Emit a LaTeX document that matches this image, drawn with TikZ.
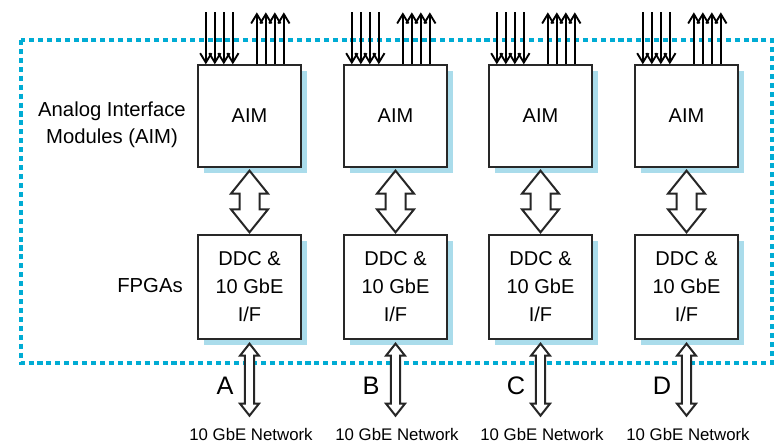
\documentclass[tikz,border=0pt]{standalone}
\usepackage{fontspec}
\setmainfont{Liberation Sans}
\usetikzlibrary{arrows.meta,calc,shadows}
\definecolor{dashblue}{RGB}{0,172,212}
\definecolor{shadowblue}{RGB}{170,220,235}
\definecolor{boxline}{RGB}{40,40,40}
% block double arrow: top tip, bottom tip, half head width, half shaft width, head length
\newcommand\blockarrow[5]{%
  \draw[barrow] let \p1=(#1), \p2=(#2) in
    (\x1,\y1) -- (\x1+#3,\y1-#5) -- (\x1+#4,\y1-#5) -- (\x1+#4,\y2+#5)
    -- (\x1+#3,\y2+#5) -- (\x1,\y2) -- (\x1-#3,\y2+#5) -- (\x1-#4,\y2+#5)
    -- (\x1-#4,\y1-#5) -- (\x1-#3,\y1-#5) -- cycle;}
\begin{document}
\begin{tikzpicture}[x=0.75pt,y=-0.75pt,
  box/.style={draw=boxline, line width=1pt, fill=white, minimum width=77.25pt,
    drop shadow={shadow xshift=4.5pt, shadow yshift=-4.5pt, fill=shadowblue, opacity=1},
    inner sep=0pt, align=center, font=\fontsize{15}{21}\selectfont},
  aimbox/.style={box, minimum height=76.5pt},
  fpgabox/.style={box, minimum height=78pt},
  sig/.style={line width=1.4pt, -{Straight Barb[length=7pt,width=8.5pt]}},
  barrow/.style={draw=black!85, line width=1.5pt, fill=white, line join=miter},
  lbl/.style={font=\fontsize{15.2}{20.25}\selectfont, align=center},
  letter/.style={font=\fontsize{19}{22}\selectfont},
  net/.style={font=\fontsize{12.6}{15}\selectfont}]
\useasboundingbox (0,0) rectangle (774,445);
\draw[dashblue, line width=2.3pt, dash pattern=on 3.8pt off 2.9pt] (21,40) rectangle (772,363);

\node[aimbox] (a1) at (249.5,116) {AIM};
\node[aimbox] (a2) at (395.5,116) {AIM};
\node[aimbox] (a3) at (540.5,116) {AIM};
\node[aimbox] (a4) at (686.5,116) {AIM};

\node[fpgabox] (f1) at (249.5,287) {DDC \&\\10 GbE\\I/F};
\node[fpgabox] (f2) at (395.5,287) {DDC \&\\10 GbE\\I/F};
\node[fpgabox] (f3) at (540.5,287) {DDC \&\\10 GbE\\I/F};
\node[fpgabox] (f4) at (686.5,287) {DDC \&\\10 GbE\\I/F};

\node[lbl] (laim) at (112,124.5) {Analog Interface\\Modules (AIM)};
\node[lbl] (lfpga) at (150,286) {FPGAs};

\foreach \i in {1,2,3,4}{
  \foreach \dx in {8.5,17.5,26.5,35.5}
    \draw[sig] ($(a\i.north west)+(\dx,-52)$) -- ($(a\i.north west)+(\dx,0)$);
  \foreach \dx in {59.5,68.5,77.5,86.5}
    \draw[sig] ($(a\i.north west)+(\dx,0)$) -- ($(a\i.north west)+(\dx,-52)$);
  \blockarrow{$(a\i.south)+(0,3)$}{$(f\i.north)+(0,-2)$}{13.9pt}{7.5pt}{17.25pt}
  \blockarrow{$(f\i.south)+(0,4)$}{$(f\i.south)+(0,76)$}{7.1pt}{3.4pt}{9pt}
}

\node[letter] (lA) at (225,386) {A};
\node[letter] (lB) at (371,386) {B};
\node[letter] (lC) at (516,386) {C};
\node[letter] (lD) at (662,386) {D};

\node[net] (n1) at (251,434.5) {10 GbE Network};
\node[net] (n2) at (397,434.5) {10 GbE Network};
\node[net] (n3) at (542,434.5) {10 GbE Network};
\node[net] (n4) at (688,434.5) {10 GbE Network};
\end{tikzpicture}
\end{document}
